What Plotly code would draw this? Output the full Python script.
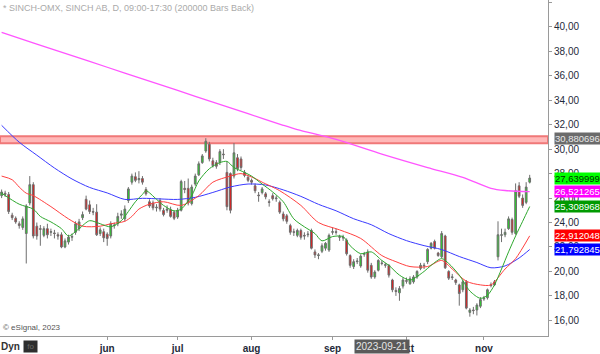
import pandas as pd
import plotly.graph_objects as go

# ---------------- data ----------------
title_text = "* SINCH-OMX, SINCH AB, D, 09:00-17:30 (200000 Bars Back)"
holidays = ["2023-05-01", "2023-05-18", "2023-06-06", "2023-06-23"]
dates = [d for d in pd.bdate_range("2023-04-18", "2023-11-20")
         if d.strftime("%Y-%m-%d") not in holidays]

month_nums = [6, 7, 8, 9, 10, 11]
month_labels = ["jun", "jul", "aug", "sep", "okt", "nov"]

opens = [26.2, 26.4, 26.3, 24.6, 24.35, 23.9, 23.6, 23.1, 25.6, 27.1,
         23.7, 23.5, 22.95, 23.5, 23.2, 23.15, 23.0, 23.0, 22.0, 22.4,
         22.8, 23.2, 23.5, 24.4, 25.9, 25.45, 24.9, 24.85, 23.1, 23.25,
         23.05, 22.9, 23.8, 23.9, 24.6, 24.3, 25.8, 27.3, 27.75, 27.5,
         27.6, 26.7, 25.7, 25.6, 25.2, 25.8, 25.0, 25.0, 25.05, 24.85,
         24.45, 25.0, 26.8, 26.8, 25.55, 27.15, 27.9, 28.9, 29.85, 30.4,
         29.05, 28.9, 28.9, 29.6, 28.1, 28.0, 27.8, 29.3, 29.2, 28.1,
         27.7, 27.45, 27.0, 26.25, 26.45, 26.35, 25.7, 26.2, 25.95, 25.65,
         24.7, 24.55, 23.75, 23.25, 22.95, 23.35, 22.95, 23.0, 23.35, 21.6,
         21.3, 21.65, 21.9, 21.75, 23.2, 23.25, 22.85, 22.8, 22.55, 21.3,
         20.4, 20.8, 20.45, 21.4, 21.6, 20.5, 19.55, 20.1, 20.7, 20.5,
         20.5, 19.3, 18.45, 18.25, 18.8, 19.25, 19.0, 19.15, 19.55, 20.25,
         20.45, 20.8, 21.9, 22.45, 21.5, 21.2, 22.9, 20.0, 19.5, 19.3,
         18.9, 18.5, 19.15, 16.65, 16.85, 16.85, 17.15, 17.75, 17.85, 18.85,
         19.15, 21.2, 22.95, 23.0, 23.5, 24.25, 23.1, 27.0, 26.0, 25.65,
         27.3]
highs = [26.7, 26.6, 26.5, 24.8, 24.5, 24.1, 24.5, 25.5, 27.8, 27.3,
         24.0, 23.8, 23.7, 23.9, 23.5, 23.4, 23.2, 23.2, 22.7, 23.0,
         23.1, 24.1, 24.3, 24.9, 26.2, 25.8, 25.2, 25.5, 23.6, 23.5,
         23.2, 24.1, 24.0, 24.8, 25.0, 25.4, 26.9, 28.0, 28.1, 28.2,
         27.8, 26.9, 25.9, 25.8, 25.5, 26.0, 25.2, 25.4, 25.3, 25.0,
         25.2, 27.5, 27.4, 27.6, 27.1, 28.0, 29.0, 29.6, 30.9, 30.6,
         29.3, 29.1, 30.0, 30.0, 29.0, 28.1, 30.5, 29.6, 29.4, 28.3,
         27.9, 27.6, 27.2, 26.5, 26.9, 26.5, 25.9, 26.4, 26.2, 25.8,
         24.9, 24.7, 23.9, 23.5, 23.5, 23.5, 23.2, 23.3, 23.5, 21.8,
         21.5, 22.3, 22.4, 23.1, 23.6, 23.5, 23.0, 23.0, 22.7, 21.4,
         21.0, 21.1, 21.4, 21.6, 21.8, 20.7, 20.1, 21.0, 20.9, 20.7,
         20.6, 19.4, 18.7, 18.8, 19.5, 19.5, 19.6, 19.7, 20.1, 20.7,
         20.7, 21.9, 22.4, 22.6, 21.6, 23.3, 23.0, 20.1, 19.8, 19.4,
         19.0, 19.3, 19.3, 17.0, 17.1, 17.4, 17.9, 18.0, 18.6, 19.1,
         19.3, 24.1, 23.5, 23.5, 24.5, 24.4, 27.2, 27.3, 26.3, 27.3,
         27.9]
lows = [26.0, 26.1, 24.7, 24.2, 23.9, 23.5, 23.4, 20.65, 25.4, 22.7,
        22.6, 22.1, 22.8, 22.7, 22.9, 22.7, 22.6, 21.9, 21.9, 22.2,
        22.5, 23.0, 23.3, 24.2, 25.0, 24.7, 24.6, 22.9, 22.9, 22.4,
        22.1, 22.7, 23.5, 23.7, 24.3, 24.1, 25.6, 27.1, 27.3, 27.2,
        27.1, 26.2, 25.2, 25.0, 24.9, 24.9, 24.5, 24.8, 24.4, 24.2,
        24.3, 24.9, 26.4, 25.4, 25.4, 27.0, 27.8, 28.8, 29.7, 29.0,
        28.5, 28.4, 28.7, 29.2, 25.0, 24.75, 27.6, 28.2, 28.3, 27.7,
        27.3, 27.1, 26.4, 25.7, 26.3, 25.9, 25.3, 25.8, 25.7, 24.7,
        24.1, 23.9, 23.0, 22.9, 22.8, 22.6, 22.6, 22.8, 21.8, 21.1,
        21.0, 21.5, 21.7, 21.6, 23.0, 23.0, 22.5, 22.5, 21.3, 20.3,
        20.2, 20.6, 20.3, 21.2, 19.9, 19.4, 19.4, 20.0, 20.5, 20.3,
        19.5, 18.3, 18.0, 17.6, 18.6, 19.0, 18.9, 19.0, 19.4, 20.1,
        20.2, 20.6, 21.8, 21.8, 21.2, 21.1, 20.2, 19.3, 19.3, 18.9,
        17.2, 18.3, 16.9, 16.3, 16.5, 16.4, 17.0, 17.6, 17.7, 18.7,
        18.8, 20.9, 22.4, 22.8, 23.4, 23.0, 23.0, 26.0, 25.2, 25.5,
        27.2]
closes = [26.5, 26.3, 24.9, 24.4, 24.05, 23.75, 24.3, 25.35, 27.1, 22.9,
          22.9, 23.45, 23.5, 23.0, 23.25, 23.1, 22.9, 22.0, 22.5, 22.8,
          22.85, 23.9, 24.05, 24.65, 25.1, 24.9, 24.85, 23.0, 23.4, 22.75,
          22.7, 23.9, 23.75, 24.5, 24.7, 25.1, 26.75, 27.8, 27.45, 27.6,
          27.3, 26.35, 25.35, 25.2, 25.25, 25.1, 24.65, 25.1, 24.5, 24.35,
          25.0, 27.35, 26.7, 25.6, 26.9, 27.8, 28.8, 29.45, 30.65, 29.2,
          28.65, 28.6, 29.8, 29.55, 25.3, 25.0, 29.7, 28.4, 28.5, 27.85,
          27.45, 27.3, 26.6, 26.2, 26.75, 26.1, 25.65, 25.95, 26.0, 24.85,
          24.3, 24.1, 23.2, 23.2, 23.35, 22.8, 22.9, 23.05, 21.9, 21.35,
          21.35, 22.1, 22.3, 22.95, 23.25, 23.2, 22.8, 22.75, 21.45, 20.5,
          20.8, 20.85, 21.25, 21.45, 20.1, 19.55, 19.95, 20.9, 20.65, 20.55,
          19.7, 18.5, 18.35, 18.6, 19.3, 19.2, 19.4, 19.55, 20.0, 20.5,
          20.5, 21.8, 22.3, 21.9, 21.3, 23.1, 20.3, 19.45, 19.55, 19.1,
          18.2, 19.15, 17.0, 16.85, 16.8, 17.25, 17.7, 17.8, 18.5, 18.9,
          18.9, 23.0, 23.0, 23.2, 24.3, 23.2, 26.6, 26.15, 25.4, 26.9,
          27.64]

# moving averages (bar index, value)
ma_green_idx = [0, 5, 9, 11, 14, 17, 19, 22, 25, 28, 31, 34, 36, 38, 40, 41, 44, 46, 49, 51,
                54, 56, 59, 62, 64, 66, 69, 71, 74, 77, 80, 83, 86, 89, 91, 94, 97, 99, 102,
                105, 108, 110, 113, 116, 120, 122, 125, 127, 130, 133, 136, 138, 140, 142,
                144, 146, 148, 150]
ma_green_val = [26.4, 25.5, 25.1, 24.5, 24.05, 23.5, 22.9, 23.5, 24.15, 23.9, 23.65, 24.15,
                24.9, 25.7, 26.3, 26.6, 25.9, 25.4, 24.95, 25.1, 26.2, 27.4, 28.4, 28.9,
                29.0, 28.5, 28.1, 27.8, 27.15, 26.5, 25.7, 24.3, 23.65, 23.1, 22.5, 22.85,
                22.85, 22.1, 21.45, 21.6, 20.9, 20.5, 19.7, 19.3, 20.0, 20.5, 21.05, 20.65,
                19.7, 18.4, 17.8, 18.05, 18.9, 20.2, 21.6, 22.9, 24.1, 25.308968]
ma_red_idx = [0, 3, 5, 7, 9, 14, 19, 23, 28, 31, 35, 37, 39, 42, 46, 51, 56, 60, 65, 68,
              72, 74, 79, 85, 90, 96, 102, 108, 112, 116, 121, 125, 128, 132, 136, 139,
              143, 146, 150]
ma_red_val = [27.8, 27.5, 26.9, 26.4, 26.2, 25.3, 24.3, 23.7, 23.7, 23.9, 24.1, 24.5,
              25.1, 25.5, 25.7, 25.4, 26.2, 27.3, 27.8, 28.0, 27.6, 27.3, 26.6, 25.4,
              24.0, 23.4, 22.7, 21.3, 20.8, 20.4, 20.4, 20.9, 20.2, 19.2, 18.9, 18.9,
              20.2, 21.05, 22.912048]
ma_blue_idx = [0, 5, 10, 15, 20, 25, 30, 35, 40, 45, 50, 55, 60, 65, 70, 75, 80, 85, 90,
               95, 100, 105, 110, 115, 120, 125, 130, 135, 139, 143, 147, 150]
ma_blue_val = [31.95, 30.57, 29.51, 28.46, 27.56, 26.87, 26.42, 25.89, 25.98, 25.93, 25.89,
               26.06, 26.46, 26.91, 27.15, 27.07, 26.67, 26.14, 25.49, 24.96, 24.31, 23.82,
               23.09, 22.52, 22.11, 21.79, 21.22, 20.73, 20.3, 20.45, 21.1, 21.792845]
ma_mag_idx = [0, 10, 20, 30, 40, 50, 60, 70, 80, 84, 95, 108, 121, 131, 139, 143, 150]
ma_mag_val = [39.55, 38.6, 37.65, 36.7, 35.75, 34.8, 33.85, 32.9, 31.95, 31.6, 30.8,
              29.6, 28.5, 27.7, 26.8, 26.62, 26.521265]

resistance_level = 30.880696
resistance_top = 31.06
resistance_bottom = 30.48

tag_values = [30.880696, 27.639999, 26.521265, 25.308968, 22.912048, 21.792845]
tag_bg = ["#6b6b6b", "#00ff00", "#ff00ff", "#009a00", "#ff0000", "#0000ff"]
tag_fg = ["#e8e8e8", "#003300", "#ffffff", "#ffffff", "#ffffff", "#ffffff"]

y_ticks = [16, 18, 20, 22, 24, 26, 28, 30, 32, 34, 36, 38, 40, 42]
cursor_date = "2023-09-21"

# ---------------- figure ----------------
idx = list(range(len(dates)))
x_min, x_max = -0.46, 155.2
y_min, y_max = 14.72, 42.2
px_per_bar = 548 / (x_max - x_min)

tick_pos = [next(i for i, d in enumerate(dates) if d.month == m) for m in month_nums]

fig = go.Figure()
fig.add_trace(go.Candlestick(
    x=idx, open=opens, high=highs, low=lows, close=closes,
    increasing=dict(line=dict(color="#6e6e6e", width=1), fillcolor="#22dd22"),
    decreasing=dict(line=dict(color="#6e6e6e", width=1), fillcolor="#ee1111"),
    hoverinfo="skip"))

for xs, ys, col, w in [(ma_mag_idx, ma_mag_val, "#ff55ff", 1.3),
                       (ma_blue_idx, ma_blue_val, "#3a3aff", 1),
                       (ma_red_idx, ma_red_val, "#ff4040", 1),
                       (ma_green_idx, ma_green_val, "#2ea82e", 1)]:
    fig.add_trace(go.Scatter(x=xs, y=ys, mode="lines",
                             line=dict(color=col, width=w, shape="spline", smoothing=0.8),
                             hoverinfo="skip"))

# tag arrows (tip touching the price axis)
fig.add_trace(go.Scatter(x=[x_max + 3.5 / px_per_bar] * len(tag_values), y=tag_values,
                         mode="markers",
                         marker=dict(symbol="triangle-left", size=8, color=tag_bg,
                                     line=dict(width=0)),
                         cliponaxis=False, hoverinfo="skip"))

fig.add_shape(type="rect", xref="paper", x0=0, x1=1, yref="y",
              y0=resistance_bottom, y1=resistance_top,
              fillcolor="#ffb8b8", line=dict(color="#f07878", width=2), layer="below")

ann = []
for v, bg, fg in zip(tag_values, tag_bg, tag_fg):
    ann.append(dict(xref="paper", x=1, yref="y", y=v, xanchor="left", yanchor="middle",
                    xshift=6, showarrow=False, text=f"{v:.6f}".replace(".", ","),
                    bgcolor=bg, borderpad=0,
                    font=dict(family="Liberation Sans", size=9.5, color=fg)))
ann.append(dict(xref="paper", x=0, yref="paper", y=1, xanchor="left", yanchor="top",
                xshift=1, yshift=-1, showarrow=False, text=title_text,
                font=dict(family="Liberation Sans", size=9, color="#aaaaaa")))
ann.append(dict(xref="paper", x=0, yref="paper", y=0, xanchor="left", yanchor="bottom",
                xshift=1, yshift=2, showarrow=False, text="© eSignal, 2023",
                font=dict(family="Liberation Sans", size=8, color="#555555")))
ann.append(dict(xref="paper", x=0, yref="paper", y=0, xanchor="left", yanchor="top",
                xshift=-1, yshift=-3, showarrow=False, text="Dyn",
                font=dict(family="Liberation Sans", size=10, color="#333333", weight="bold")))
ann.append(dict(xref="paper", x=0, yref="paper", y=0, xanchor="left", yanchor="top",
                xshift=23, yshift=-4, showarrow=False, text="&nbsp;fo&nbsp;",
                bgcolor="#2e2e2e", borderpad=1,
                font=dict(family="Liberation Sans", size=8, color="#6a6a6a")))
cursor_i = next(i for i, d in enumerate(dates) if d.strftime("%Y-%m-%d") == cursor_date)
ann.append(dict(xref="x", x=cursor_i, yref="paper", y=0, xanchor="center", yanchor="top",
                yshift=-3, showarrow=False, text=cursor_date, bgcolor="#5a5a5a", borderpad=1,
                font=dict(family="Liberation Sans", size=10, color="#e6e6e6")))

fig.update_layout(
    width=600, height=354, margin=dict(l=0, r=52, t=0, b=16),
    paper_bgcolor="white", plot_bgcolor="white",
    showlegend=False, hovermode=False, annotations=ann,
    xaxis=dict(range=[x_min, x_max], tickvals=tick_pos, ticktext=month_labels,
               showline=True, linecolor="#9a9a9a", linewidth=1,
               ticks="outside", ticklen=3, tickcolor="#9a9a9a",
               showgrid=False, zeroline=False, rangeslider=dict(visible=False),
               tickfont=dict(family="Liberation Sans", size=10, color="#1f2a3a", weight="bold")),
    yaxis=dict(side="right", range=[y_min, y_max], tickvals=y_ticks,
               ticktext=[f"{t:.2f}".replace(".", ",") for t in y_ticks],
               showline=True, linecolor="#9a9a9a", linewidth=1,
               ticks="outside", ticklen=3, tickcolor="#9a9a9a",
               showgrid=False, zeroline=False,
               tickfont=dict(family="Liberation Sans", size=10, color="#1f2a3a")),
)

fig.write_html("out.html")
